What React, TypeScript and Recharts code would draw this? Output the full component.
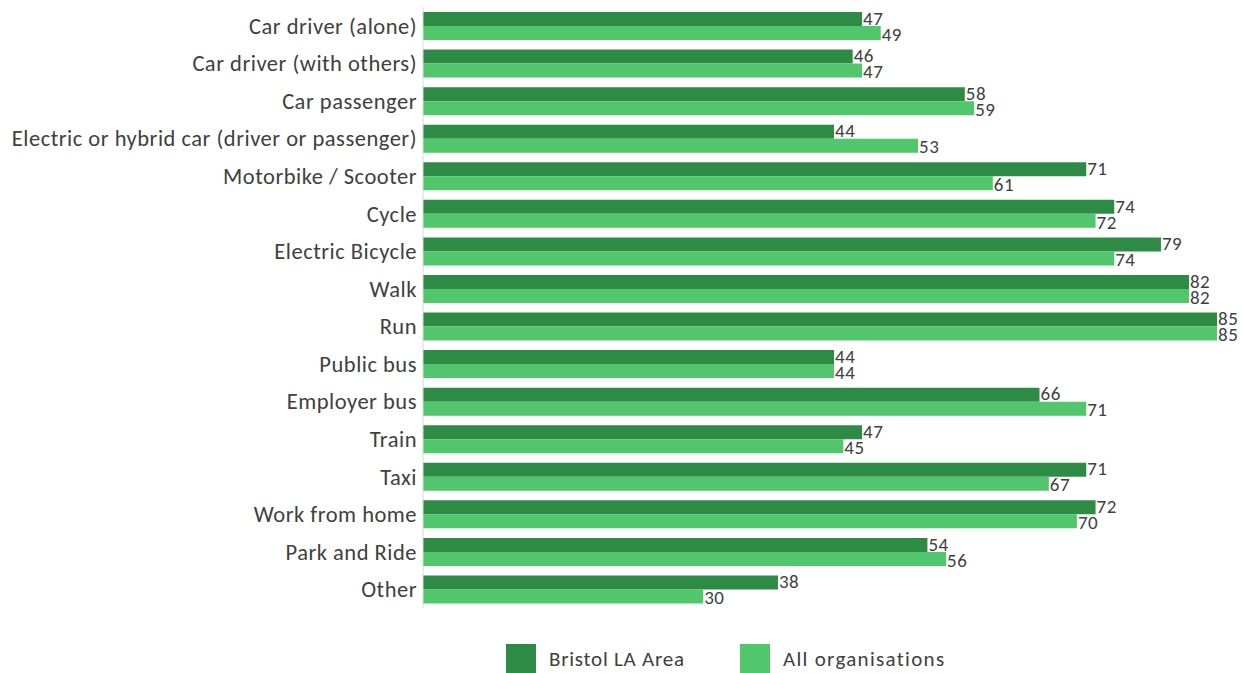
import { BarChart, Bar, XAxis, YAxis, LabelList, Legend } from 'recharts'

const CATEGORIES = [
  'Car driver (alone)',
  'Car driver (with others)',
  'Car passenger',
  'Electric or hybrid car (driver or passenger)',
  'Motorbike / Scooter',
  'Cycle',
  'Electric Bicycle',
  'Walk',
  'Run',
  'Public bus',
  'Employer bus',
  'Train',
  'Taxi',
  'Work from home',
  'Park and Ride',
  'Other',
]
const BRISTOL = [47, 46, 58, 44, 71, 74, 79, 82, 85, 44, 66, 47, 71, 72, 54, 38]
const ALL_ORGS = [49, 47, 59, 53, 61, 72, 74, 82, 85, 44, 71, 45, 67, 70, 56, 30]

const DARK = '#2e8b46'
const LIGHT = '#52c66c'
const TEXT = '#404040'
const FONT = "Carlito, Calibri, Lato, sans-serif"

const data = CATEGORIES.map((name, i) => ({ name, bristol: BRISTOL[i], all: ALL_ORGS[i] }))

function LegendBox() {
  const item = (color: string, label: string, left: number, spacing: number) => (
    <div style={{ position: 'absolute', left, top: 0, display: 'flex', alignItems: 'center' }}>
      <span style={{ width: 30, height: 29, background: color, display: 'inline-block', marginRight: 13 }} />
      <span style={{ fontSize: 21, color: TEXT, letterSpacing: spacing, whiteSpace: 'nowrap' }}>{label}</span>
    </div>
  )
  return (
    <div style={{ position: 'relative', height: 29, fontFamily: FONT }}>
      {item(DARK, 'Bristol LA Area', 506, 0.75)}
      {item(LIGHT, 'All organisations', 740, 1.3)}
    </div>
  )
}

export default function App() {
  return (
    <div style={{ position: 'absolute', left: 0, top: 0, background: '#fff' }}>
      <BarChart
        width={1243}
        height={673}
        data={data}
        layout="vertical"
        margin={{ top: 7, right: 26, bottom: 36, left: 0 }}
        barSize={14}
        barGap={0}
        style={{ fontFamily: FONT }}
      >
        <XAxis type="number" domain={[0, 85]} hide />
        <YAxis
          type="category"
          dataKey="name"
          width={423}
          axisLine={{ stroke: '#d9d9d9' }}
          tickLine={false}
          tickMargin={0}
          interval={0}
          tick={{ fill: TEXT, fontSize: 22.5, fontFamily: FONT, letterSpacing: 0.5 }}
        />
        <Legend
          verticalAlign="bottom"
          content={() => <LegendBox />}
          wrapperStyle={{ left: 0, bottom: 0, width: 1243, height: 29 }}
        />
        <Bar dataKey="bristol" name="Bristol LA Area" fill={DARK} isAnimationActive={false}>
          <LabelList dataKey="bristol" position="right" offset={1} dy={-1} fill={TEXT} fontSize={19} fontFamily={FONT} style={{ letterSpacing: 0.5 }} />
        </Bar>
        <Bar dataKey="all" name="All organisations" fill={LIGHT} isAnimationActive={false}>
          <LabelList dataKey="all" position="right" offset={1} dy={1} fill={TEXT} fontSize={19} fontFamily={FONT} style={{ letterSpacing: 0.5 }} />
        </Bar>
      </BarChart>
    </div>
  )
}
